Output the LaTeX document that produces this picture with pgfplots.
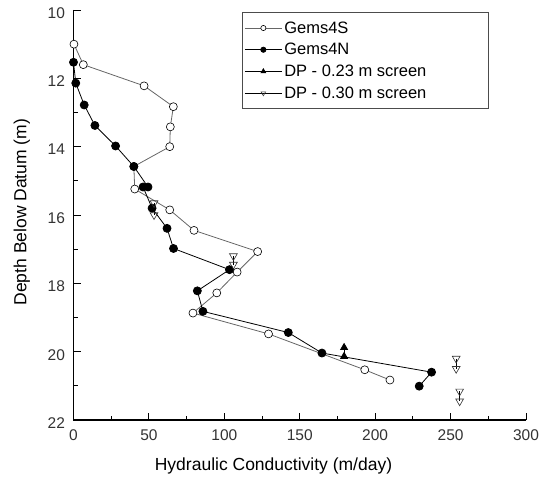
\documentclass[border=0pt]{standalone}
\usepackage{fontspec}
\setmainfont{Liberation Sans}
\usepackage{pgfplots}
\pgfplotsset{compat=1.18}
\begin{document}
\begin{tikzpicture}
\begin{axis}[
  scale only axis, width=452.5pt, height=410pt,
  xmin=0, xmax=300, ymin=10, ymax=22, y dir=reverse,
  axis lines=left, axis line style={-, line width=1.5pt},
  xtick={0,50,...,300}, ytick={10,12,...,22},
  minor xtick={25,75,...,275}, minor ytick={11,13,...,21},
  tick align=inside, major tick length=7pt, minor tick length=4pt,
  tick style={black, line width=0.9pt},
  /pgf/number format/assume math mode=true,
  ticklabel style={font=\fontsize{15.5}{18}\selectfont, text=black!80},
  xticklabel style={yshift=-6pt},
  yticklabel style={xshift=-5pt, yshift=-3pt},
  xlabel={Hydraulic Conductivity (m/day)},
  ylabel={Depth Below Datum (m)},
  label style={font=\fontsize{17.5}{20}\selectfont},
  xlabel style={at={(axis description cs:0.442,-0.112)}, anchor=center},
  ylabel style={at={(axis description cs:-0.114,0.507)}, anchor=center},
  clip=false,
  unbounded coords=jump,
  legend cell align=left,
  legend style={at={(rel axis cs:0.3724,0.995)}, anchor=north west, draw=black!70, line width=0.9pt,
    font=\fontsize{16.5}{19}\selectfont, row sep=4.7pt, inner xsep=2pt, inner ysep=7pt},
  legend image code/.code={\draw[mark size=2.6pt, mark repeat=2,mark phase=2] plot coordinates {(0cm,0cm) (0.65cm,0cm) (1.3cm,0cm)};},
]
\addplot[black!60, line width=0.8pt, mark=*, mark size=4pt, mark options={fill=white, draw=black, line width=0.6pt}] coordinates {
(0.3,11.0) (6.5,11.6) (46.8,12.22) (66.2,12.83) (64.2,13.42) (63.8,14.0) (40,14.58) (40.6,15.24)
(63.8,15.85) (79.9,16.45) (122.1,17.07) (108.5,17.67) (95,18.28) (79.2,18.87) (129.3,19.48)
(193.1,20.53) (209.8,20.83)};
\addlegendentry{\makebox[200pt][l]{Gems4S}}
\addplot[black, line width=0.8pt, mark=*, mark size=4pt, mark options={fill=black, draw=black}] coordinates {
(0,11.53) (1.5,12.14) (7.1,12.78) (14.2,13.38) (27.9,13.98) (40,14.58) (49.4,15.18) (46.1,15.18)
(52.1,15.8) (62,16.39) (66.3,16.98) (103.4,17.6) (82.1,18.22) (85.8,18.82) (142.4,19.44)
(164.7,20.04) (237.4,20.6) (229.2,21.01)};
\addlegendentry{Gems4N}
\addplot[black, line width=0.8pt, mark=triangle*, mark size=4pt, mark options={fill=black, draw=black}] coordinates {
(179.4,19.88) (179.4,20.14)};
\addlegendentry{DP - 0.23 m screen}
\addplot[black, line width=0.8pt, mark=triangle, mark size=4.5pt, mark options={rotate=180, fill=white, draw=black!80, line width=0.6pt}] coordinates {
(53.4,15.65) (53.4,16.0) (53.4,nan) (106,17.2) (106,17.45) (106,nan) (253.7,20.2) (253.7,20.5) (253.7,nan) (256,21.16) (256,21.45)};
\addlegendentry{DP - 0.30 m screen}
\coordinate (SW) at (rel axis cs:0,0);
\coordinate (NE) at (rel axis cs:1,1);
\end{axis}
\pgfresetboundingbox
\path[use as bounding box] ([shift={(-73.5pt,-58pt)}]SW) rectangle ([shift={(14pt,10pt)}]NE);
\end{tikzpicture}
\end{document}
